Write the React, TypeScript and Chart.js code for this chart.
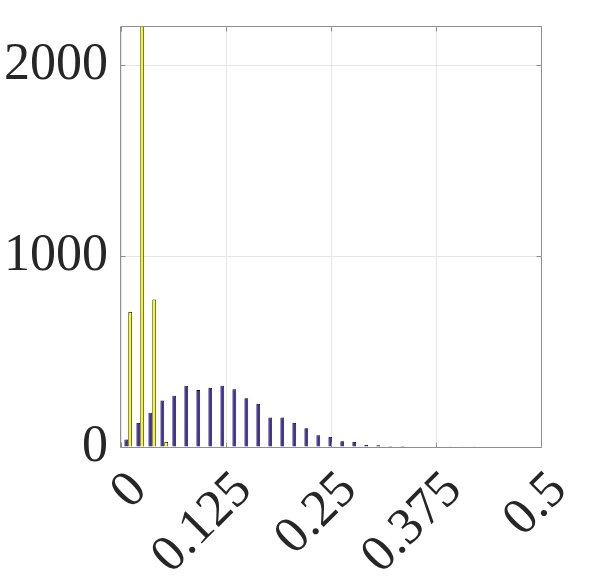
import React, { useEffect, useRef } from "react";
import { Chart, registerables } from "chart.js";

Chart.register(...registerables);

// Bin centres (x)
const BIN_CENTERS = [
  0.0086, 0.0229, 0.0372, 0.0515, 0.0657, 0.08, 0.0943, 0.1086, 0.1229, 0.1372,
  0.1515, 0.1657, 0.18, 0.1943, 0.2086, 0.2229, 0.2372, 0.2515, 0.2657, 0.28,
  0.2943, 0.3086, 0.3229, 0.3372, 0.3515, 0.3657, 0.38, 0.3943, 0.4086, 0.4229,
];
// Blue series counts
const SERIES_BLUE = [
  39, 126, 180, 243, 269, 321, 298, 309, 321, 302,
  255, 225, 155, 155, 126, 98, 61, 52, 30, 26,
  10, 9, 5, 5, 3, 2, 2, 1, 1, 1,
];
// Yellow series counts
const SERIES_YELLOW = [
  708, 2250, 773, 26, 0, 0, 0, 0, 0, 0,
  0, 0, 0, 0, 0, 0, 0, 0, 0, 0,
  0, 0, 0, 0, 0, 0, 0, 0, 0, 0,
];

const X_TICKS = [0, 0.125, 0.25, 0.375, 0.5];
const X_TICK_LABELS = ["0", "0.125", "0.25", "0.375", "0.5"];
const Y_TICKS = [0, 1000, 2000];
const Y_TICK_LABELS = ["0", "1000", "2000"];
const X_RANGE = [0, 0.5];
const Y_RANGE = [0, 2200];

const FAMILY = "'Liberation Serif', 'DejaVu Serif', serif";
const FONT_SIZE = 52;
const Y_FONT = { family: FAMILY, size: FONT_SIZE, lineHeight: 1.0 };
const TEXT_COLOR = "#262626";
const AXIS_COLOR = "#8f8f8f";
const GRID_COLOR = "#e6e6e6";

const boxPlugin = {
  id: "boxTicks",
  afterDatasetsDraw(chart: any) {
    const { ctx, chartArea: a, scales } = chart;
    ctx.save();
    ctx.strokeStyle = AXIS_COLOR;
    ctx.lineWidth = 1;
    ctx.beginPath();
    const L = Math.round(a.left) - 0.5;
    const R = Math.round(a.right) + 0.5;
    const T = Math.round(a.top) - 0.5;
    const B = Math.round(a.bottom) + 0.5;
    ctx.rect(L, T, R - L, B - T);
    const tl = 5;
    Y_TICKS.forEach((v) => {
      const py = Math.round(scales.y.getPixelForValue(v)) + 0.5;
      ctx.moveTo(L, py);
      ctx.lineTo(L + tl, py);
      ctx.moveTo(R, py);
      ctx.lineTo(R - tl, py);
    });
    X_TICKS.forEach((v) => {
      const px = Math.round(scales.x.getPixelForValue(v)) + 0.5;
      ctx.moveTo(px, B);
      ctx.lineTo(px, B - tl);
      ctx.moveTo(px, T);
      ctx.lineTo(px, T + tl);
    });
    ctx.stroke();

    // rotated x tick labels (45°), anchored at the right end of each label
    ctx.fillStyle = TEXT_COLOR;
    ctx.font = `${FONT_SIZE}px ${FAMILY}`;
    ctx.textAlign = "right";
    ctx.textBaseline = "middle";
    X_TICKS.forEach((v, i) => {
      const px = scales.x.getPixelForValue(v);
      ctx.save();
      ctx.translate(px + 18, a.bottom + 35);
      ctx.rotate(-Math.PI / 4);
      ctx.fillText(X_TICK_LABELS[i], 0, 0);
      ctx.restore();
    });
    ctx.restore();
  },
};

export default function App() {
  const ref = useRef<HTMLCanvasElement | null>(null);

  useEffect(() => {
    if (!ref.current) return;
    const chart = new Chart(ref.current, {
      type: "bar",
      data: {
        datasets: [
          {
            data: BIN_CENTERS.map((x, i) => ({ x, y: SERIES_BLUE[i] })),
            backgroundColor: "rgb(62,38,168)",
            borderColor: "#000000",
            borderWidth: 0.8,
            categoryPercentage: 0.66,
            barPercentage: 0.95,
            clip: 0,
          } as any,
          {
            data: BIN_CENTERS.map((x, i) => ({ x, y: SERIES_YELLOW[i] })),
            backgroundColor: "rgb(249,251,14)",
            borderColor: "#000000",
            borderWidth: 0.8,
            categoryPercentage: 0.66,
            barPercentage: 0.95,
            clip: 0,
          } as any,
        ],
      },
      options: {
        responsive: false,
        animation: false,
        layout: { padding: { top: 27, right: 57, left: 0, bottom: 0 } },
        plugins: { legend: { display: false }, tooltip: { enabled: false } },
        scales: {
          x: {
            type: "linear",
            min: X_RANGE[0],
            max: X_RANGE[1],
            offset: false,
            afterBuildTicks: (s: any) => {
              s.ticks = X_TICKS.map((value) => ({ value }));
            },
            afterFit: (s: any) => {
              s.height = 134;
              s.paddingLeft = 0;
              s.paddingRight = 0;
            },
            ticks: { display: false, autoSkip: false },
            grid: { color: GRID_COLOR, drawTicks: false, lineWidth: 1, offset: false },
            border: { display: false },
          },
          y: {
            type: "linear",
            min: Y_RANGE[0],
            max: Y_RANGE[1],
            afterBuildTicks: (s: any) => {
              s.ticks = Y_TICKS.map((value) => ({ value }));
            },
            afterFit: (s: any) => {
              s.width = 121;
              s.paddingTop = 0;
              s.paddingBottom = 0;
            },
            ticks: {
              padding: 13,
              color: TEXT_COLOR,
              font: Y_FONT,
              callback: (v: any) => {
                const i = Y_TICKS.indexOf(Number(v));
                return i >= 0 ? Y_TICK_LABELS[i] : "";
              },
            },
            grid: { color: GRID_COLOR, drawTicks: false, lineWidth: 1 },
            border: { display: false },
          },
        },
      },
      plugins: [boxPlugin],
    });
    return () => chart.destroy();
  }, []);

  return (
    <div style={{ position: "absolute", left: 0, top: 0, width: 598, height: 581, background: "#fff" }}>
      <canvas ref={ref} width={598} height={581} style={{ display: "block" }} />
    </div>
  );
}
